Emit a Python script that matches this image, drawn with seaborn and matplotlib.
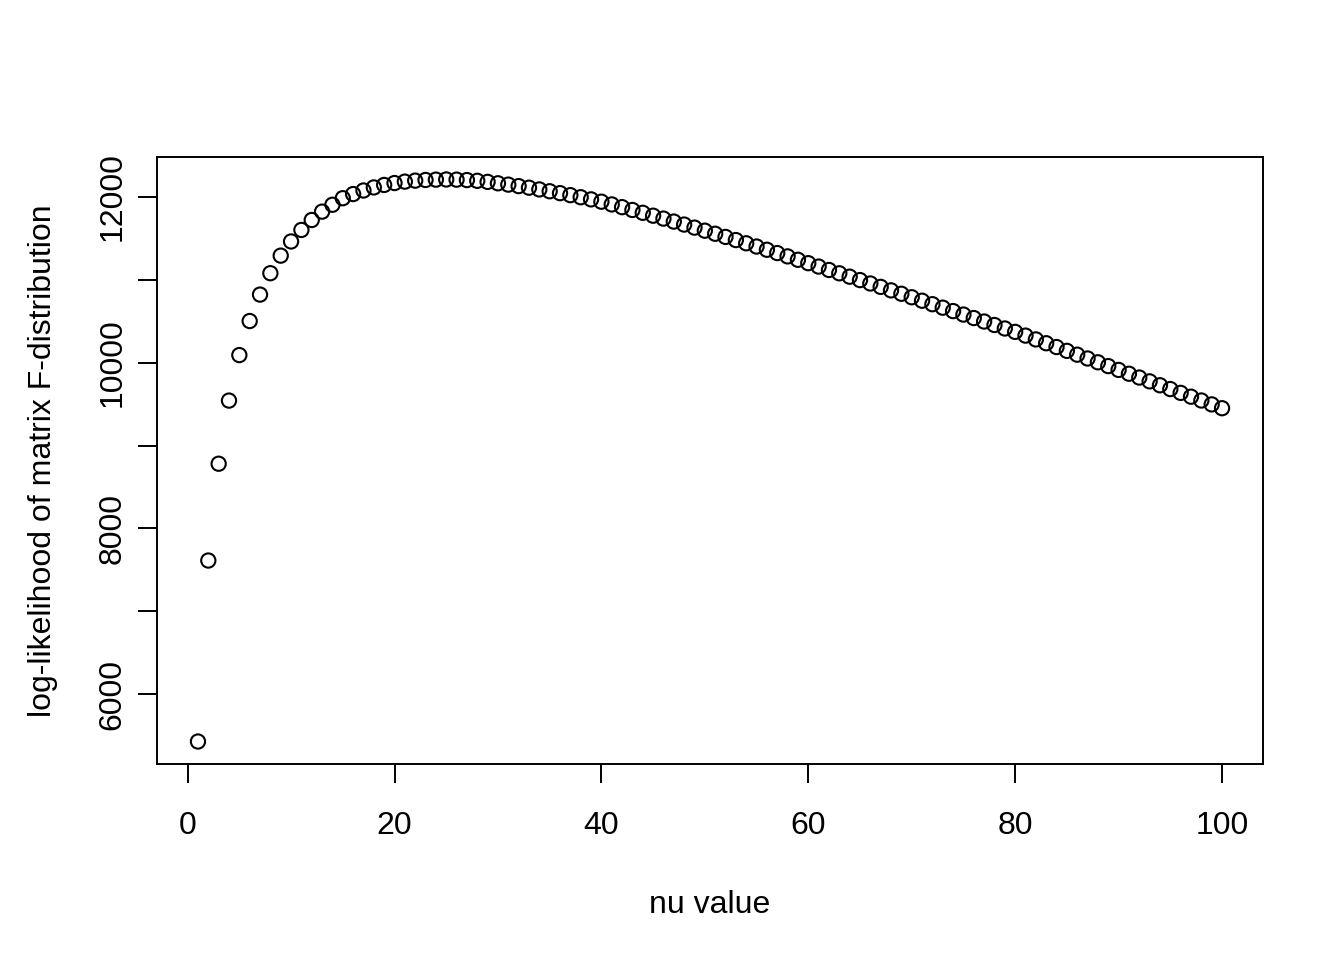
import seaborn as sns
import pandas as pd
import matplotlib
matplotlib.use("Agg")
from matplotlib import pyplot as plt

# nu values on the x axis
nu = list(range(1, 101))

# log-likelihood, one per nu
loglik = [
    5429, 7613, 8781, 9543, 10092, 10503, 10822, 11080, 11292, 11463,
    11602, 11722, 11823, 11906, 11985, 12035, 12078, 12115, 12145, 12168,
    12185, 12197, 12205, 12209, 12211, 12209, 12204, 12195, 12182, 12165,
    12149, 12131, 12112, 12091, 12069, 12046, 12022, 11997, 11971, 11943,
    11910, 11877, 11843, 11809, 11774, 11739, 11703, 11667, 11630, 11593,
    11556, 11518, 11480, 11441, 11402, 11363, 11323, 11283, 11242, 11201,
    11160, 11119, 11079, 11038, 10997, 10956, 10915, 10873, 10832, 10790,
    10748, 10706, 10664, 10623, 10581, 10539, 10497, 10455, 10413, 10372,
    10327, 10281, 10235, 10189, 10143, 10097, 10051, 10005, 9959, 9913,
    9867, 9821, 9775, 9728, 9682, 9636, 9590, 9544, 9497, 9451,
]

x_ticks = [0, 20, 40, 60, 80, 100]
y_ticks = [6000, 7000, 8000, 9000, 10000, 11000, 12000]
y_tick_labels = ["6000", "", "8000", "", "10000", "", "12000"]

df = pd.DataFrame({"nu": nu, "loglik": loglik})

sns.set_theme(style="white")
plt.rcParams['font.family'] = ['Liberation Sans', 'DejaVu Sans']

fig = plt.figure(figsize=(13.44, 9.6), dpi=100)
ax = fig.add_axes([157 / 1344, 1 - 764 / 960, (1263 - 157) / 1344, (764 - 157) / 960])

sns.scatterplot(data=df, x="nu", y="loglik", ax=ax, marker="o", s=105,
                facecolor="none", edgecolor="black", linewidth=1.5)

# R style 4% padding around the data
xr = max(nu) - min(nu)
yr = max(loglik) - min(loglik)
ax.set_xlim(min(nu) - 0.04 * xr, max(nu) + 0.04 * xr)
ax.set_ylim(min(loglik) - 0.04 * yr, max(loglik) + 0.04 * yr)

ax.set_xticks(x_ticks)
ax.set_xticklabels([str(t) for t in x_ticks])
ax.set_yticks(y_ticks)
ax.set_yticklabels(y_tick_labels, rotation=90, va="center")

for s in ax.spines.values():
    s.set_visible(True)
    s.set_color("black")
    s.set_linewidth(1.4)

ax.tick_params(axis="both", direction="out", length=14, width=1.4, color="black",
               labelsize=23, labelcolor="black", bottom=True, left=True)
ax.tick_params(axis="x", pad=20)
ax.tick_params(axis="y", pad=7)

ax.set_xlabel("nu value", fontsize=23, labelpad=35, color="black")
ax.set_ylabel("log-likelihood of matrix F-distribution", fontsize=23, labelpad=29, color="black")

fig.savefig("out.png", dpi=100, facecolor="white")
